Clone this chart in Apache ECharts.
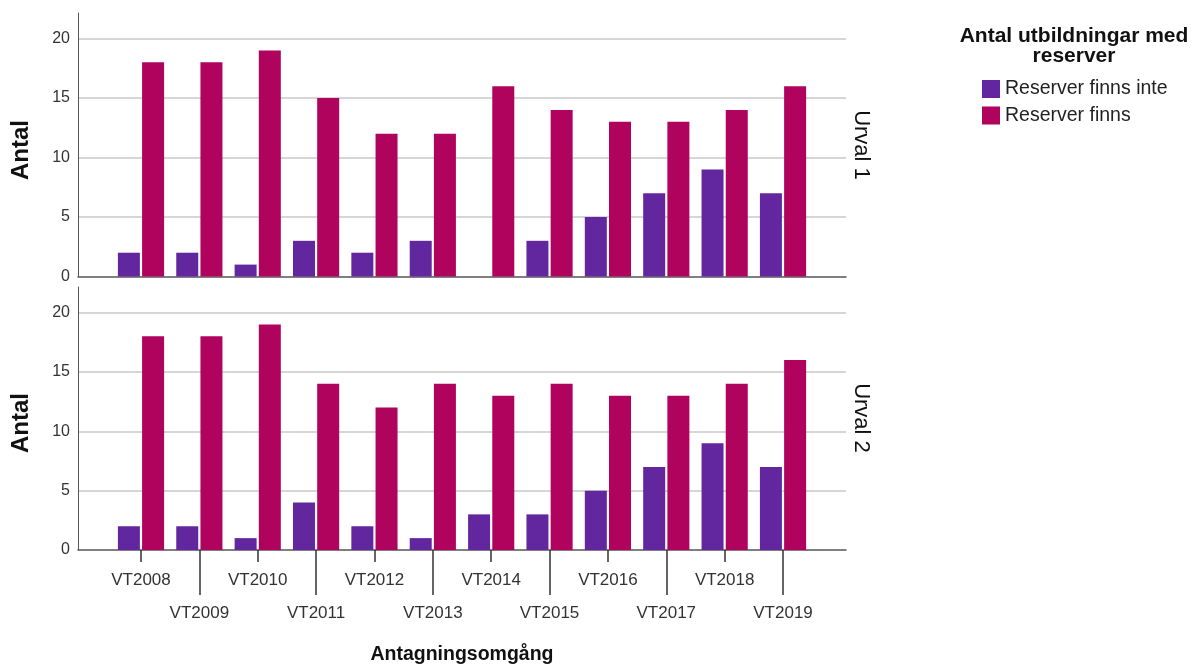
<!DOCTYPE html>
<html>
<head>
<meta charset="utf-8">
<script src="https://cdn.jsdelivr.net/npm/echarts@6/dist/echarts.min.js"></script>
<style>
html,body{margin:0;padding:0;background:#fff;}
#chart{width:1195px;height:666px;}
</style>
</head>
<body>
<div id="chart"></div>
<script>
const categories = ['VT2008','VT2009','VT2010','VT2011','VT2012','VT2013','VT2014','VT2015','VT2016','VT2017','VT2018','VT2019'];
const seriesNames = ['Reserver finns inte', 'Reserver finns'];
const urval1Inte  = [2, 2, 1, 3, 2, 3, 0, 3, 5, 7, 9, 7];
const urval1Finns = [18, 18, 19, 15, 12, 12, 16, 14, 13, 13, 14, 16];
const urval2Inte  = [2, 2, 1, 4, 2, 1, 3, 3, 5, 7, 9, 7];
const urval2Finns = [18, 18, 19, 14, 12, 14, 13, 14, 13, 13, 14, 16];
const panelLabels = ['Urval 1', 'Urval 2'];
const yTicks = [0, 5, 10, 15, 20];

const FONT = '"Liberation Sans", Arial, sans-serif';
const C_INTE = '#62279e';
const C_FINNS = '#b0035e';
const YMAX = 22.15;

const chart = echarts.init(document.getElementById('chart'), null, {renderer: 'canvas'});

const frameLeft = 78, frameRight = 1195 - 846;
const barLeft = 111.8, barRight = 1195 - 812.2;
const panels = [{top: 13, bottom: 666 - 276.5}, {top: 287, bottom: 666 - 550}];

function frameY(gi) {
  return {
    gridIndex: gi, type: 'value', min: 0, max: YMAX, interval: 5,
    axisLine: {show: true, lineStyle: {color: '#555', width: 1}},
    axisTick: {show: false},
    axisLabel: {
      color: '#333', fontFamily: FONT, fontSize: 16, margin: 8,
      showMaxLabel: false,
      formatter: v => (yTicks.indexOf(v) >= 0 ? String(v) : '')
    },
    splitLine: {show: true, showMaxLine: false, showMinLine: false, lineStyle: {color: '#c8c8c8', width: 1.5}}
  };
}
function hiddenY(gi) {
  return {gridIndex: gi, type: 'value', min: 0, max: YMAX, interval: 5, show: false};
}
function frameX(gi) {
  return {
    gridIndex: gi, type: 'value', min: 0, max: 1,
    axisLine: {show: true, onZero: false, lineStyle: {color: '#555', width: 1.5}},
    axisTick: {show: false}, axisLabel: {show: false}, splitLine: {show: false}
  };
}

const option = {
  backgroundColor: '#fff',
  animation: false,
  grid: [
    {left: frameLeft, right: frameRight, top: panels[0].top, bottom: panels[0].bottom},
    {left: barLeft, right: barRight, top: panels[0].top, bottom: panels[0].bottom},
    {left: frameLeft, right: frameRight, top: panels[1].top, bottom: panels[1].bottom},
    {left: barLeft, right: barRight, top: panels[1].top, bottom: panels[1].bottom}
  ],
  xAxis: [
    frameX(0),
    {gridIndex: 1, type: 'category', data: categories, show: false},
    frameX(2),
    {
      gridIndex: 3, type: 'category', data: categories, position: 'bottom',
      axisLine: {show: false},
      axisTick: {show: true, alignWithLabel: true, length: 12, interval: (i) => i % 2 === 0, lineStyle: {color: '#333', width: 1.5}},
      axisLabel: {interval: (i) => i % 2 === 0, color: '#333', fontFamily: FONT, fontSize: 17, margin: 22},
      splitLine: {show: false}
    },
    {
      gridIndex: 3, type: 'category', data: categories, position: 'bottom',
      axisLine: {show: false},
      axisTick: {show: true, alignWithLabel: true, length: 45, interval: (i) => i % 2 === 1, lineStyle: {color: '#333', width: 1.5}},
      axisLabel: {interval: (i) => i % 2 === 1, color: '#333', fontFamily: FONT, fontSize: 17, margin: 55},
      splitLine: {show: false}
    }
  ],
  yAxis: [frameY(0), hiddenY(1), frameY(2), hiddenY(3)],
  legend: {
    orient: 'vertical', left: 982, top: 79, padding: 0, itemWidth: 18, itemHeight: 18, itemGap: 6.5,
    icon: 'rect', data: seriesNames,
    textStyle: {fontFamily: FONT, fontSize: 19.5, color: '#222'}
  },
  graphic: [
    {type: 'text', x: 1074, y: 36, style: {text: 'Antal utbildningar med', fontFamily: FONT, fontSize: 21, fontWeight: 'bold', fill: '#111', align: 'center', verticalAlign: 'middle'}},
    {type: 'text', x: 1074, y: 56, style: {text: 'reserver', fontFamily: FONT, fontSize: 21, fontWeight: 'bold', fill: '#111', align: 'center', verticalAlign: 'middle'}},
    {type: 'text', x: 21, y: 150, rotation: Math.PI / 2, style: {text: 'Antal', fontFamily: FONT, fontSize: 24, fontWeight: 'bold', fill: '#111', align: 'center', verticalAlign: 'middle'}},
    {type: 'text', x: 21, y: 423, rotation: Math.PI / 2, style: {text: 'Antal', fontFamily: FONT, fontSize: 24, fontWeight: 'bold', fill: '#111', align: 'center', verticalAlign: 'middle'}},
    {type: 'text', x: 861, y: 145, rotation: -Math.PI / 2, style: {text: panelLabels[0], fontFamily: FONT, fontSize: 22, fill: '#111', align: 'center', verticalAlign: 'middle'}},
    {type: 'text', x: 861, y: 418, rotation: -Math.PI / 2, style: {text: panelLabels[1], fontFamily: FONT, fontSize: 22, fill: '#111', align: 'center', verticalAlign: 'middle'}},
    {type: 'text', x: 462, y: 655, style: {text: 'Antagningsomgång', fontFamily: FONT, fontSize: 19.5, fontWeight: 'bold', fill: '#111', align: 'center', verticalAlign: 'middle'}}
  ],
  series: [
    {name: seriesNames[0], type: 'bar', xAxisIndex: 1, yAxisIndex: 1, data: urval1Inte, barWidth: 22, barGap: '10%', itemStyle: {color: C_INTE}},
    {name: seriesNames[1], type: 'bar', xAxisIndex: 1, yAxisIndex: 1, data: urval1Finns, barWidth: 22, barGap: '10%', itemStyle: {color: C_FINNS}},
    {name: seriesNames[0], type: 'bar', xAxisIndex: 3, yAxisIndex: 3, data: urval2Inte, barWidth: 22, barGap: '10%', itemStyle: {color: C_INTE}},
    {name: seriesNames[1], type: 'bar', xAxisIndex: 3, yAxisIndex: 3, data: urval2Finns, barWidth: 22, barGap: '10%', itemStyle: {color: C_FINNS}}
  ]
};
chart.setOption(option);
</script>
</body>
</html>
